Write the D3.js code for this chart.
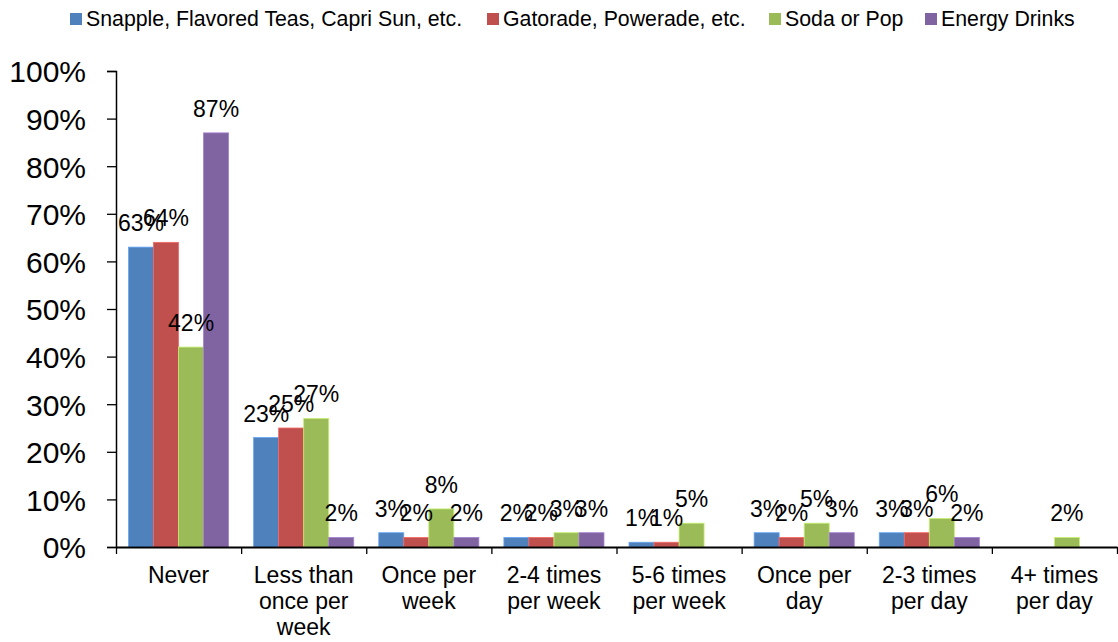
<!DOCTYPE html>
<html>
<head>
<meta charset="utf-8">
<script src="https://cdn.jsdelivr.net/npm/d3@7"></script>
<style>
  html, body { margin: 0; padding: 0; background: #fff; }
  svg text { font-family: "Liberation Sans", Arial, sans-serif; fill: #000; }
</style>
</head>
<body>
<svg id="chart" width="1118" height="642"></svg>
<script>
const categories = [
  ["Never"],
  ["Less than", "once per", "week"],
  ["Once per", "week"],
  ["2-4 times", "per week"],
  ["5-6 times", "per week"],
  ["Once per", "day"],
  ["2-3 times", "per day"],
  ["4+ times", "per day"]
];
const seriesNames = ["Snapple, Flavored Teas, Capri Sun, etc.", "Gatorade, Powerade, etc.", "Soda or Pop", "Energy Drinks"];
const seriesColors = ["#4F81BD", "#C0504D", "#9BBB59", "#8064A2"];
const snapple = [63, 23, 3, 2, 1, 3, 3, null];
const gatorade = [64, 25, 2, 2, 1, 2, 3, null];
const soda = [42, 27, 8, 3, 5, 5, 6, 2];
const energy = [87, 2, 2, 3, null, 3, 2, null];
const yTicks = [0, 10, 20, 30, 40, 50, 60, 70, 80, 90, 100];

const seriesValues = [snapple, gatorade, soda, energy];

const svg = d3.select("#chart");
const plotLeft = 116, plotRight = 1117, plotTop = 71, plotBottom = 547;

const y = d3.scaleLinear().domain([0, 100]).range([plotBottom, plotTop]);
const xIdx = d3.scaleLinear().domain([0, categories.length]).range([plotLeft, plotRight]);
const x = d3.scaleBand().domain(d3.range(categories.length)).range([plotLeft, plotRight]).padding(0);
const xs = d3.scaleBand().domain(d3.range(seriesNames.length))
  .range([x.bandwidth() * 0.1, x.bandwidth() * 0.9]).padding(0);

// bars
seriesValues.forEach((vals, si) => {
  const g = svg.append("g");
  const data = vals.map((v, i) => ({ v, i })).filter(d => d.v !== null);
  g.selectAll("rect").data(data).enter().append("rect")
    .attr("x", d => x(d.i) + xs(si))
    .attr("y", d => y(d.v))
    .attr("width", xs.bandwidth())
    .attr("height", d => y(0) - y(d.v))
    .attr("fill", seriesColors[si])
    .attr("stroke", d3.color(seriesColors[si]).brighter(0.7))
    .attr("stroke-width", 0.8);
});

// data labels
seriesValues.forEach((vals, si) => {
  const data = vals.map((v, i) => ({ v, i })).filter(d => d.v !== null);
  svg.append("g").selectAll("text").data(data).enter().append("text")
    .attr("x", d => x(d.i) + xs(si) + xs.bandwidth() / 2)
    .attr("y", d => y(d.v) - 16)
    .attr("text-anchor", "middle")
    .style("font-size", "23px")
    .text(d => d.v + "%");
});

// y axis
const yAxis = d3.axisLeft(y).tickValues(yTicks).tickFormat(d => d + "%").tickSize(9).tickPadding(21);
const yg = svg.append("g").attr("transform", `translate(${plotLeft},0)`).call(yAxis);
yg.select(".domain").attr("stroke", "#000").attr("stroke-width", 1.5);
yg.selectAll(".tick line").attr("stroke", "#000").attr("stroke-width", 1.3);
yg.selectAll(".tick text").style("font-size", "30px").style("font-family", "Liberation Sans, Arial, sans-serif").attr("dy", "0.36em");

// x axis (boundary ticks)
const xAxis = d3.axisBottom(xIdx).tickValues(d3.range(categories.length + 1)).tickFormat("").tickSize(7).tickSizeOuter(0);
const xg = svg.append("g").attr("transform", `translate(0,${plotBottom})`).call(xAxis);
xg.select(".domain").attr("stroke", "#000").attr("stroke-width", 2);
xg.selectAll(".tick line").attr("stroke", "#000").attr("stroke-width", 1.3);

// category labels
const cl = svg.append("g").selectAll("text").data(categories).enter().append("text")
  .attr("text-anchor", "middle")
  .attr("x", (d, i) => x(i) + x.bandwidth() / 2)
  .attr("y", 583)
  .style("font-size", "23px");
cl.selectAll("tspan").data(d => d).enter().append("tspan")
  .attr("x", function() { return this.parentNode.getAttribute("x"); })
  .attr("dy", (d, i) => i === 0 ? 0 : 26)
  .text(d => d);

// legend
const legendX = [70, 487, 769, 925];
const lg = svg.append("g");
seriesNames.forEach((name, i) => {
  lg.append("rect").attr("x", legendX[i]).attr("y", 13).attr("width", 12).attr("height", 12).attr("fill", seriesColors[i]);
  lg.append("text").attr("x", legendX[i] + 16).attr("y", 26).style("font-size", "21.3px").text(name);
});
</script>
</body>
</html>
